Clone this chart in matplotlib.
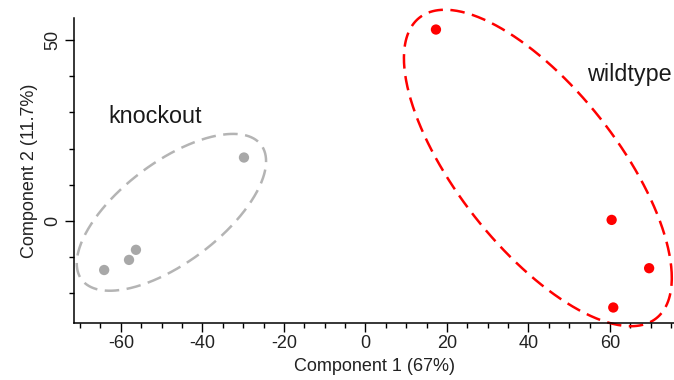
import numpy as np
import matplotlib
matplotlib.use("Agg")
import matplotlib.pyplot as plt
from matplotlib.ticker import MultipleLocator

plt.rcParams['font.family'] = ['Liberation Sans', 'DejaVu Sans']
plt.rcParams['axes.unicode_minus'] = False

# Data (PCA scores)
knockout_x = [-64.1, -58.0, -56.3, -29.8]
knockout_y = [-13.7, -10.9, -8.1, 17.5]
wildtype_x = [17.3, 60.4, 69.6, 60.8]
wildtype_y = [53.0, 0.2, -13.2, -24.1]

group_labels = ["knockout", "wildtype"]
xlabel = "Component 1 (67%)"
ylabel = "Component 2 (11.7%)"

# Group ellipses (center, covariance-like shape matrix in data units)
ko_center = (-47.6, 2.3)
ko_shape = [[539.3, 329.1], [329.1, 473.1]]
wt_center = (42.3, 14.6)
wt_shape = [[1079.7, -1000.9], [-1000.9, 1926.2]]

W, H, DPI = 674, 380, 100
fig = plt.figure(figsize=(W / DPI, H / DPI), dpi=DPI)
ax = fig.add_axes([74 / W, (380 - 323) / H, (W - 74) / W, (323 - 18) / H])
ax.set_xlim(-71.5, 75.7)
ax.set_ylim(-28.4, 56.2)

gray = '#a8a8a8'
red = '#ff0000'

def draw_ellipse(center, shape, color):
    L = np.linalg.cholesky(np.array(shape))
    t = np.linspace(0, 2 * np.pi, 400)
    pts = L @ np.vstack([np.cos(t), np.sin(t)])
    ax.plot(center[0] + pts[0], center[1] + pts[1], color=color, lw=1.8,
            linestyle=(0, (5.8, 3.0)), clip_on=False, zorder=2)

draw_ellipse(ko_center, ko_shape, '#b4b4b4')
draw_ellipse(wt_center, wt_shape, red)

ax.scatter(knockout_x, knockout_y, s=55, color=gray, edgecolors='none', zorder=3)
ax.scatter(wildtype_x, wildtype_y, s=55, color=red, edgecolors='none', zorder=3)

ax.text(-63.0, 28.8, group_labels[0], fontsize=16.8, color='#1a1a1a', va='center', ha='left')
ax.text(54.4, 40.5, group_labels[1], fontsize=16.8, color='#1a1a1a', va='center', ha='left')

for s in ['top', 'right']:
    ax.spines[s].set_visible(False)
for s in ['left', 'bottom']:
    ax.spines[s].set_linewidth(1.1)
    ax.spines[s].set_color('#000000')

ax.xaxis.set_major_locator(MultipleLocator(20))
ax.xaxis.set_minor_locator(MultipleLocator(5))
ax.yaxis.set_major_locator(MultipleLocator(50))
ax.yaxis.set_minor_locator(MultipleLocator(10))
ax.tick_params(which='major', length=6.5, width=1.0, labelsize=13, labelcolor='#222222', pad=2.5)
ax.tick_params(which='minor', length=3.6, width=1.0)
for lab in ax.get_yticklabels():
    lab.set_rotation(90)
    lab.set_va('center')

ax.set_xlabel(xlabel, fontsize=13, color='#222222', labelpad=4)
ax.set_ylabel(ylabel, fontsize=13, color='#222222', labelpad=5)

fig.savefig('out.png', dpi=DPI)
